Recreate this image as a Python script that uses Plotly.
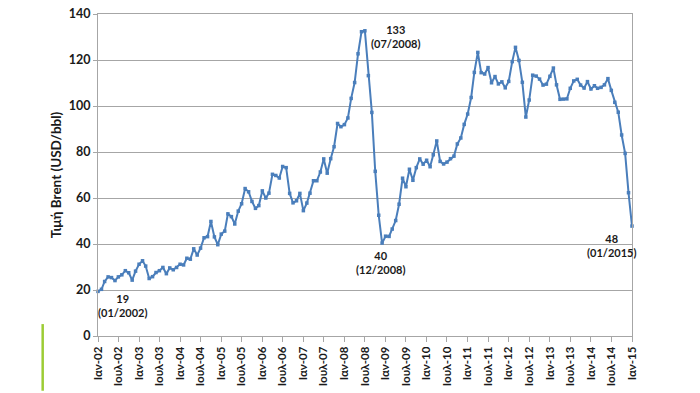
import pandas as pd
import plotly.graph_objects as go

months = pd.date_range("2002-01-01", periods=157, freq="MS")

y2002 = [19.4, 20.3, 23.7, 25.7, 25.4, 24.1, 25.7, 26.6, 28.4, 27.5, 24.3, 28.2]
y2003 = [31.2, 32.7, 30.4, 25.0, 25.8, 27.6, 28.4, 29.8, 27.1, 29.6, 28.8, 29.8]
y2004 = [31.2, 30.9, 33.8, 33.4, 37.9, 35.2, 38.2, 42.7, 43.2, 49.8, 43.1, 39.7]
y2005 = [44.3, 45.6, 53.1, 51.9, 48.7, 54.3, 57.5, 64.1, 62.7, 58.5, 55.5, 56.7]
y2006 = [63.1, 60.0, 62.1, 70.3, 69.8, 68.7, 73.7, 73.2, 62.0, 57.9, 58.8, 62.0]
y2007 = [54.5, 57.8, 62.1, 67.5, 67.5, 71.3, 77.0, 70.8, 77.1, 82.3, 92.4, 91.0]
y2008 = [91.9, 94.8, 103.3, 110.2, 122.7, 132.3, 132.7, 113.2, 97.2, 71.6, 52.5, 40.4]
y2009 = [43.4, 43.3, 46.5, 50.2, 57.3, 68.6, 64.9, 72.5, 67.7, 73.2, 77.0, 74.7]
y2010 = [76.4, 73.6, 78.8, 84.8, 75.9, 74.8, 75.6, 77.1, 78.2, 83.5, 86.1, 92.0]
y2011 = [96.5, 103.7, 114.6, 123.3, 114.5, 113.9, 116.7, 110.1, 112.8, 109.6, 110.5, 107.9]
y2012 = [110.7, 119.3, 125.5, 119.8, 110.3, 95.2, 102.6, 113.4, 113.0, 111.7, 109.1, 109.5]
y2013 = [112.9, 116.5, 109.2, 102.9, 103.0, 103.1, 107.7, 110.9, 111.6, 109.1, 107.8, 110.6]
y2014 = [107.4, 108.8, 107.7, 108.1, 109.2, 111.9, 106.8, 101.6, 97.3, 87.4, 79.4, 62.3]
y2015 = [47.8]

brent = (y2002 + y2003 + y2004 + y2005 + y2006 + y2007 + y2008 + y2009
         + y2010 + y2011 + y2012 + y2013 + y2014 + y2015)

tick_dates = pd.date_range("2002-01-01", "2015-01-01", freq="6MS")
tick_labels = []
for d in tick_dates:
    tick_labels.append(("Ιαν-" if d.month == 1 else "Ιουλ-") + d.strftime("%y"))

y_ticks = [0, 20, 40, 60, 80, 100, 120, 140]

FONT = "Lato"
LINE_COLOR = "#4a7ebb"
GRID = "#a6a6a6"

fig = go.Figure()
fig.add_trace(go.Scatter(
    x=months, y=brent, mode="lines+markers",
    line=dict(color=LINE_COLOR, width=2),
    marker=dict(color=LINE_COLOR, size=3.5, symbol="square"),
    cliponaxis=False, showlegend=False,
))

def label(i, text, xshift, yshift):
    fig.add_annotation(
        x=months[i], y=brent[i], text=text, showarrow=False,
        xshift=xshift, yshift=yshift,
        font=dict(family=FONT, size=11, color="#1a1a1a", weight="bold"),
        align="center",
    )

label(0, "19<br>(01/2002)", 24, -14)
label(78, "133<br>(07/2008)", 31, -6)
label(83, "40<br>(12/2008)", -2, -19)
label(156, "48<br>(01/2015)", -21, -19)

fig.add_shape(type="line", xref="paper", yref="paper",
              x0=-0.1036, x1=-0.1036, y0=0.037, y1=-0.17,
              line=dict(color="#9ccc34", width=2.5))

fig.update_layout(
    width=700, height=393,
    margin=dict(l=98, r=68, t=14, b=57, autoexpand=False),
    paper_bgcolor="white", plot_bgcolor="white",
    font=dict(family=FONT, color="#1a1a1a"),
)
fig.update_xaxes(
    range=[months[0], months[-1]],
    tickvals=list(tick_dates), ticktext=tick_labels, tickangle=-90,
    tickfont=dict(family=FONT, size=11.5, weight="bold"),
    showgrid=False, showline=True, linecolor=GRID, linewidth=1, mirror=True,
    ticks="outside", ticklen=5, tickcolor=GRID, automargin=False,
)
fig.update_yaxes(
    range=[0, 140], tickvals=y_ticks,
    tickfont=dict(family=FONT, size=12.5, weight="bold"),
    title=dict(text="Τιμή Brent (USD/bbl)", font=dict(family=FONT, size=13.5, weight="bold"), standoff=4),
    showgrid=True, gridcolor=GRID, gridwidth=1,
    showline=True, linecolor=GRID, linewidth=1, mirror=True,
    ticks="outside", ticklen=4, tickcolor=GRID, zeroline=False, automargin=False,
)

fig.write_html("out.html", config={"displayModeBar": False},
               post_script="document.body.style.margin='0';")
